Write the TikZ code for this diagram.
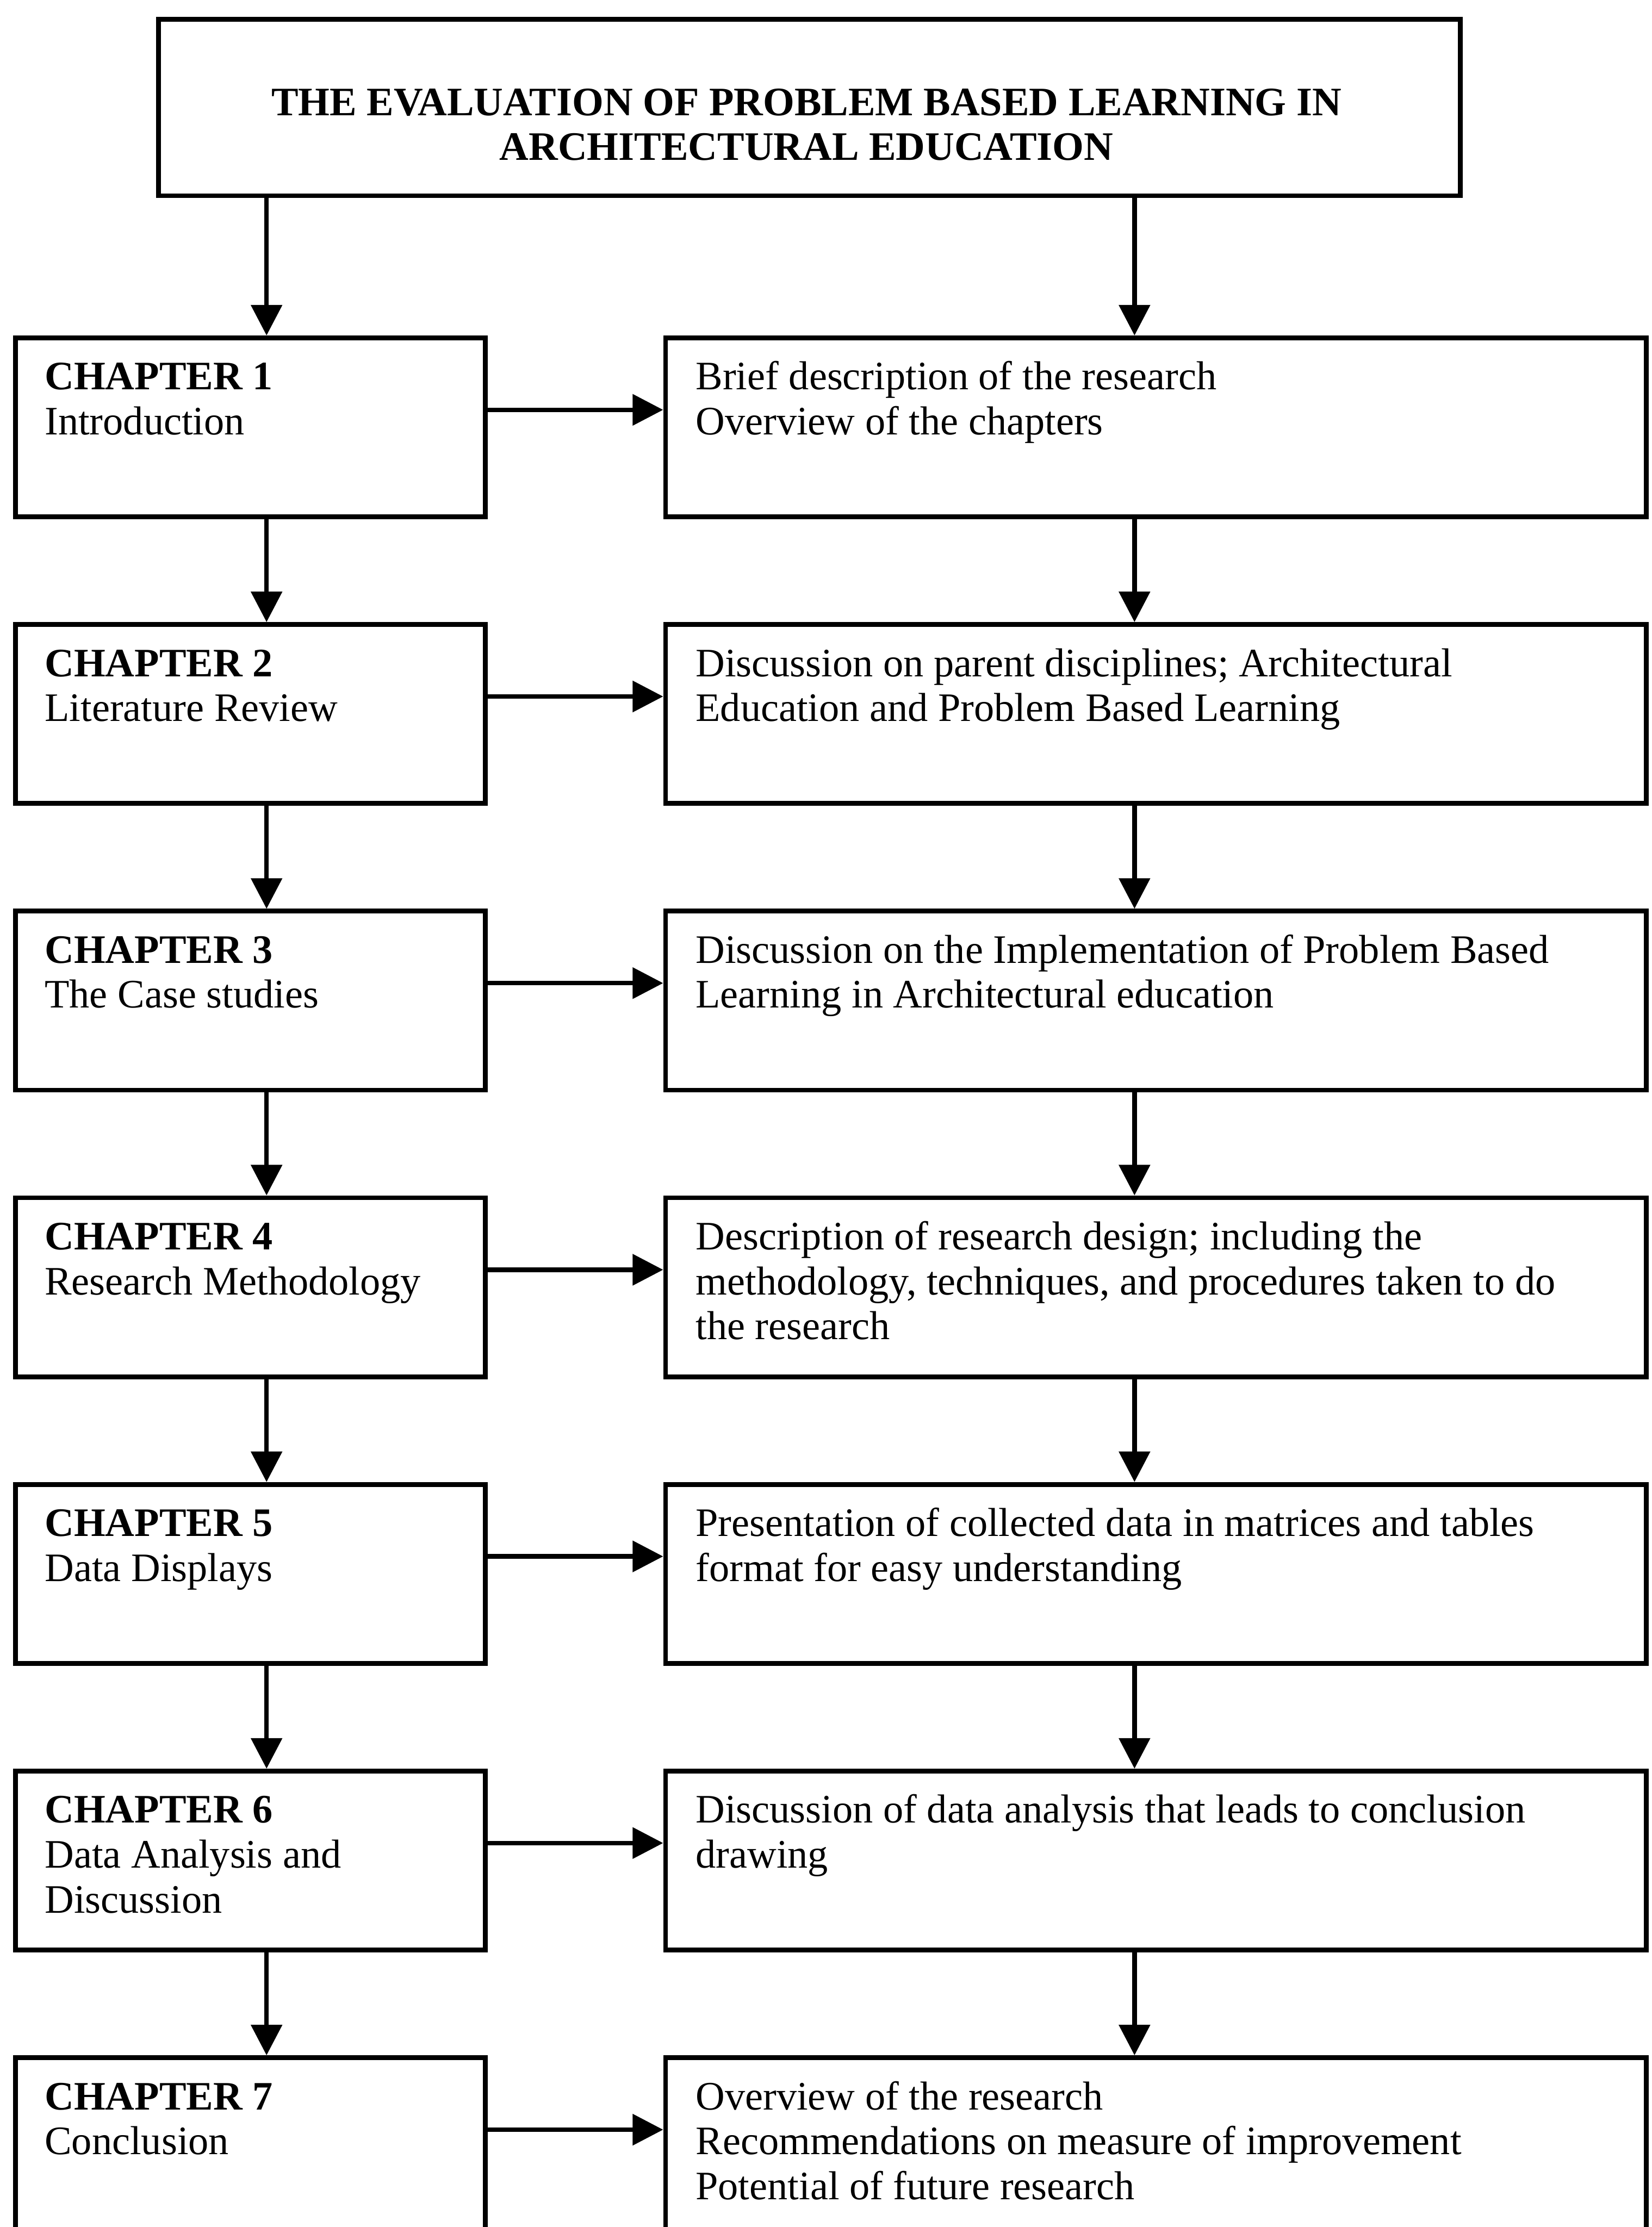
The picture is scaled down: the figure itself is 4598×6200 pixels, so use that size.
\documentclass[tikz,border=0pt]{standalone}
\usepackage{fontspec}
\setmainfont{Liberation Serif}
\usetikzlibrary{arrows.meta}
\newcommand{\lines}[1]{\begin{tabular}[t]{@{}l@{}}#1\end{tabular}}
\newcommand{\clines}[1]{\begin{tabular}[t]{@{}c@{}}#1\end{tabular}}
\begin{document}
\begin{tikzpicture}[x=0.01cm,y=-0.01cm,
  box/.style={draw, rectangle, line width=3.8pt, inner sep=0pt, anchor=north west},
  lbox/.style={box, minimum width=13.08cm, minimum height=4.98cm},
  rbox/.style={box, minimum width=27.28cm, minimum height=4.98cm},
  txt/.style={anchor=base west, inner sep=0pt,
    font=\fontsize{32}{35.6}\selectfont},
  flow/.style={line width=3.6pt, -{Triangle[length=0.85cm,width=0.85cm]}},
]
\useasboundingbox (0,0) rectangle (4598,6200);
\clip (0,0) rectangle (4598,6200);
\fill[white] (0,0) rectangle (4598,6200);

% column lines for the vertical connectors
\coordinate (cl) at (742,0);
\coordinate (cr) at (3158,0);

% title
\node[box, minimum width=36.21cm, minimum height=4.91cm] (title) at (435,47) {};
\node[anchor=base, inner sep=0pt,
  font=\fontsize{32}{35.3}\bfseries\selectfont] (titletext) at (2245,322)
  {\clines{THE EVALUATION OF PROBLEM BASED LEARNING IN\\ARCHITECTURAL EDUCATION}};

% chapter boxes (left) and content boxes (right)
\node[lbox] (L1) at (36,934) {};
\node[rbox] (R1) at (1846,934) {};
\node[lbox] (L2) at (36,1732) {};
\node[rbox] (R2) at (1846,1732) {};
\node[lbox] (L3) at (36,2530) {};
\node[rbox] (R3) at (1846,2530) {};
\node[lbox] (L4) at (36,3328) {};
\node[rbox] (R4) at (1846,3328) {};
\node[lbox] (L5) at (36,4126) {};
\node[rbox] (R5) at (1846,4126) {};
\node[lbox] (L6) at (36,4924) {};
\node[rbox] (R6) at (1846,4924) {};
\node[lbox] (L7) at (36,5722) {};
\node[rbox] (R7) at (1846,5722) {};

% texts
\node[txt] (t1l) at (124,1085) {\lines{\textbf{CHAPTER 1}\\Introduction}};
\node[txt] (t1r) at (1936,1085) {\lines{Brief description of the research\\Overview of the chapters}};
\node[txt] (t2l) at (124,1883) {\lines{\textbf{CHAPTER 2}\\Literature Review}};
\node[txt] (t2r) at (1936,1883) {\lines{Discussion on parent disciplines; Architectural\\Education and Problem Based Learning}};
\node[txt] (t3l) at (124,2681) {\lines{\textbf{CHAPTER 3}\\The Case studies}};
\node[txt] (t3r) at (1936,2681) {\lines{Discussion on the Implementation of Problem Based\\Learning in Architectural education}};
\node[txt] (t4l) at (124,3479) {\lines{\textbf{CHAPTER 4}\\Research Methodology}};
\node[txt] (t4r) at (1936,3479) {\lines{Description of research design; including the\\methodology, techniques, and procedures taken to do\\the research}};
\node[txt] (t5l) at (124,4277) {\lines{\textbf{CHAPTER 5}\\Data Displays}};
\node[txt] (t5r) at (1936,4277) {\lines{Presentation of collected data in matrices and tables\\format for easy understanding}};
\node[txt] (t6l) at (124,5075) {\lines{\textbf{CHAPTER 6}\\Data Analysis and\\Discussion}};
\node[txt] (t6r) at (1936,5075) {\lines{Discussion of data analysis that leads to conclusion\\drawing}};
\node[txt] (t7l) at (124,5873) {\lines{\textbf{CHAPTER 7}\\Conclusion}};
\node[txt] (t7r) at (1936,5873) {\lines{Overview of the research\\Recommendations on measure of improvement\\Potential of future research}};

% vertical connectors
\draw[flow] (title.south -| cl) -- (L1.north -| cl);
\draw[flow] (title.south -| cr) -- (R1.north -| cr);
\foreach \a/\b in {1/2,2/3,3/4,4/5,5/6,6/7}{
  \draw[flow] (L\a.south -| cl) -- (L\b.north -| cl);
  \draw[flow] (R\a.south -| cr) -- (R\b.north -| cr);
}

% horizontal connectors
\foreach \i/\y in {1/1141,2/1939,3/2737,4/3535,5/4333,6/5131,7/5929}{
  \coordinate (h\i) at (0,\y);
  \draw[flow] (L\i.east |- h\i) -- (R\i.west |- h\i);
}
\end{tikzpicture}
\end{document}
